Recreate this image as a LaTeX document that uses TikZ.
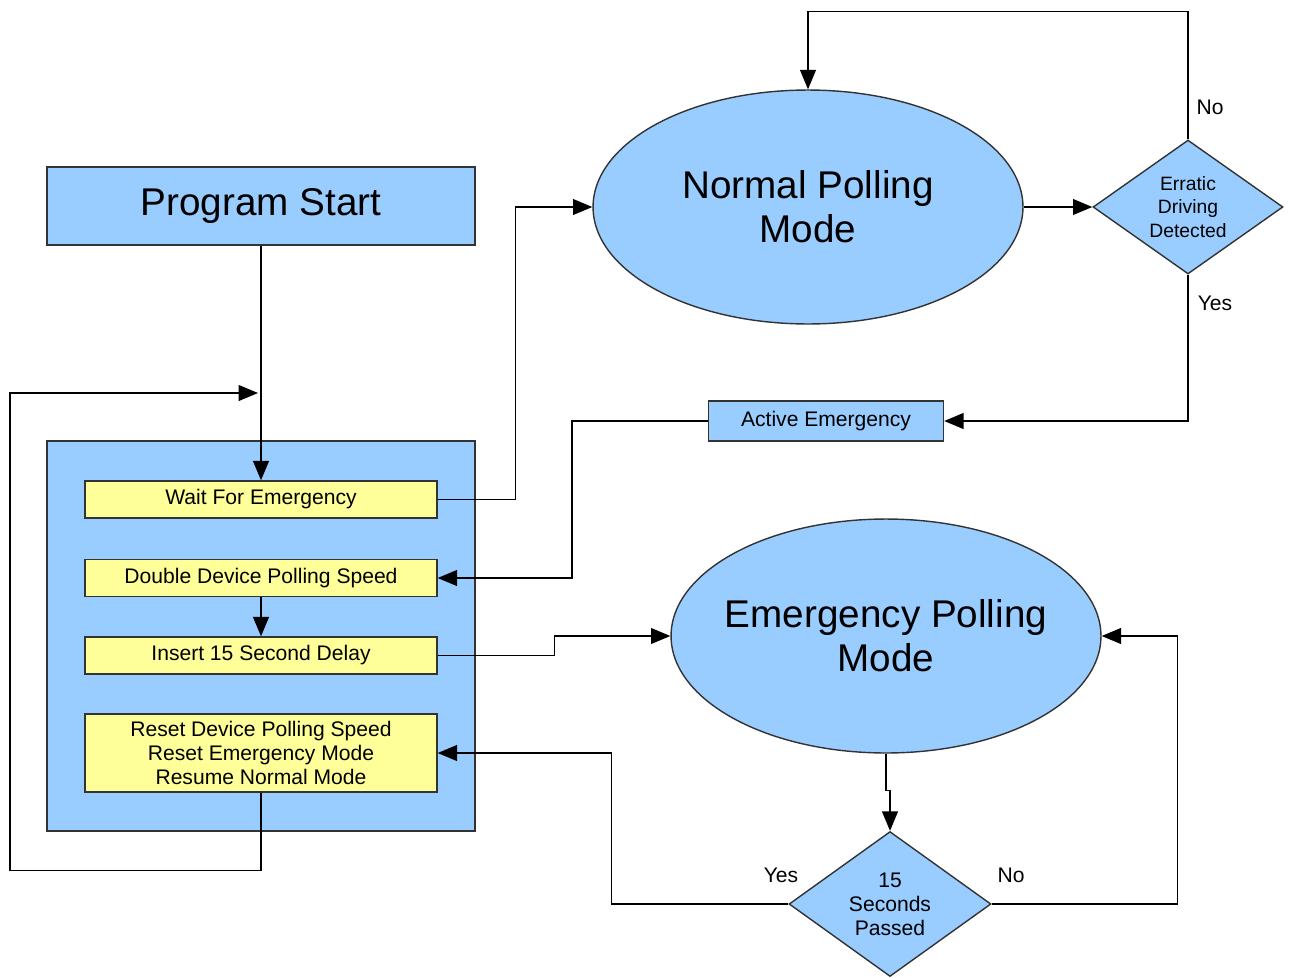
\documentclass[tikz,border=0pt]{standalone}
\usepackage{fontspec}
\setmainfont{Liberation Sans}
\usetikzlibrary{shapes.geometric,arrows.meta}
\definecolor{boxblue}{HTML}{99CCFF}
\definecolor{boxyellow}{HTML}{FFFF99}
\definecolor{edgegray}{HTML}{333333}

\begin{document}
\begin{tikzpicture}[x=0.02cm, y=-0.02cm,
    every node/.style={inner sep=0pt},
    bluebox/.style={rectangle, draw=edgegray, fill=boxblue, line width=0.8pt},
    task/.style={rectangle, draw=edgegray, fill=boxyellow, line width=0.8pt, minimum width=7.04cm, minimum height=0.74cm, font=\fontsize{12}{13.7}\selectfont, align=center},
    mode/.style={ellipse, draw=edgegray, fill=boxblue, line width=0.8pt, inner xsep=-8pt, minimum width=8.6cm, minimum height=4.68cm, font=\fontsize{22}{25}\selectfont, align=center},
    choice/.style={diamond, aspect=1.4, draw=edgegray, fill=boxblue, line width=0.8pt, align=center},
    lbl/.style={font=\fontsize{12}{14}\selectfont},
    flow/.style={line width=0.8pt, -{Triangle[length=11pt,width=9pt]}}]
                \useasboundingbox (0,0) rectangle (1290,977);

                % left column
                \node[bluebox, minimum width=8.56cm, minimum height=1.56cm, font=\fontsize{22}{25}\selectfont] (start) at (261,206) {Program Start};
                \node[bluebox, minimum width=8.56cm, minimum height=7.8cm] (loop) at (261,636) {};
                \node[task] (wait) at (261,499.5) {Wait For Emergency};
                \node[task] (double) at (261,578) {Double Device Polling Speed};
                \node[task] (insert) at (261,655.5) {Insert 15 Second Delay};
                \node[task, minimum height=1.56cm] (reset) at (261,753) {Reset Device Polling Speed\\Reset Emergency Mode\\Resume Normal Mode};
                \coordinate (loopin) at (258,393);

                % right side
                \node[mode] (normal) at (808,207) {Normal Polling\\Mode};
                \node[choice, minimum width=3.8cm, minimum height=2.68cm, font=\fontsize{11}{13.4}\selectfont] (erratic) at (1188,207) {Erratic\\Driving\\Detected};
                \node[bluebox, minimum width=4.7cm, minimum height=0.8cm, font=\fontsize{12}{14}\selectfont] (active) at (826,421) {Active Emergency};
                \node[mode] (emerg) at (886,636) {Emergency Polling\\Mode};
                \node[choice, minimum width=4.04cm, minimum height=2.9cm, font=\fontsize{12}{13.7}\selectfont] (secs) at (890,904) {15\\Seconds\\Passed};

                \node[lbl] (no1) at (1210,107) {No};
                \node[lbl] (yes1) at (1215,303) {Yes};
                \node[lbl] (yes2) at (781,875) {Yes};
                \node[lbl] (no2) at (1011,875) {No};

                \draw[flow] (start.south) -- (wait.north);
                \draw[flow] (wait.east) -- ++(78,0) |- (normal.west);
                \draw[flow] (normal.east) -- (erratic.west);
                \draw[flow] (erratic.north) -- ++(0,-128) -| (normal.north);
                \draw[flow] (erratic.south) |- (active.east);
                \draw[flow] (active.west) -- ++(-136,0) |- (double.east);
                \draw[flow] (double.south) -- (insert.north);
                \draw[flow] (insert.east) -- ++(117,0) |- (emerg.west);
                \draw[flow] (emerg.south) -- ++(0,37) -| (secs.north);
                \draw[flow] (secs.west) -- ++(-177,0) |- (reset.east);
                \draw[flow] (secs.east) -- ++(186,0) |- (emerg.east);
                \draw[flow] (reset.south) -- ++(0,78) -- ++(-251,0) |- (loopin);
            \end{tikzpicture}
\end{document}
